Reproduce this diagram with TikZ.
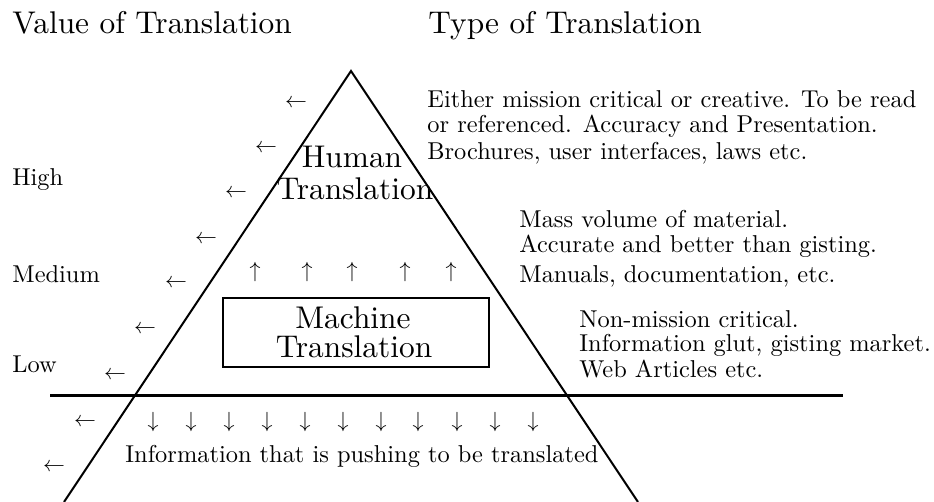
\documentclass[tikz,border=0pt]{standalone}
\font\smallrm="[lmroman10-regular]:+tlig;" at 12.2pt
\font\bigrm="[lmroman10-regular]:+tlig;" at 15.7pt
\tikzset{
  small/.style={font=\smallrm, inner sep=0pt},
  big/.style={font=\bigrm, inner sep=0pt},
  lbl/.style={small, anchor=base west},
  biglbl/.style={big, anchor=base west},
  bigc/.style={big, anchor=base},
  arr/.style={font=\fontsize{11}{11}\selectfont, inner sep=0pt},
  edgeline/.style={line width=1pt, line join=miter},
  baseline/.style={line width=1.5pt},
  mtbox/.style={line width=1.3pt},
}
\begin{document}
\begin{tikzpicture}[x=0.5pt,y=-0.5pt]
\useasboundingbox (0,0) rectangle (934,502);
\clip (0,0) rectangle (934,502);
% titles
\node[biglbl] (vt) at (12,34) {Value of Translation};
\node[biglbl] (tt) at (428,34) {Type of Translation};
% triangle
\coordinate (apex) at (351,71);
\coordinate (bl) at (64,502);
\coordinate (br) at (638,502);
\draw[edgeline] (bl) -- (apex) -- (br);
% horizontal line
\coordinate (hl) at (50,396);
\coordinate (hr) at (843,396);
\draw[baseline] (hl) -- (hr);
% box
\coordinate (bx1) at (223,298);
\coordinate (bx2) at (489,367);
\draw[mtbox] (bx1) rectangle (bx2);
\node[bigc] (mt1) at (353,329) {Machine};
\node[bigc] (mt2) at (354,358) {Translation};
% human
\node[bigc] (ht1) at (352,168) {Human};
\node[bigc] (ht2) at (355,200) {Translation};
% left labels
\node[lbl] (hi) at (12,186) {High};
\node[lbl] (me) at (12,283) {Medium};
\node[lbl] (lo) at (12,373) {Low};
% right text
\node[lbl] (a1) at (427,108) {Either mission critical or creative. To be read};
\node[lbl] (a2) at (427,133) {or referenced. Accuracy and Presentation.};
\node[lbl] (a3) at (427,160) {Brochures, user interfaces, laws etc.};
\node[lbl] (b1) at (519,228) {Mass volume of material.};
\node[lbl] (b2) at (519,253) {Accurate and better than gisting.};
\node[lbl] (b3) at (519,283) {Manuals, documentation, etc.};
\node[lbl] (c1) at (579,328) {Non-mission critical.};
\node[lbl] (c2) at (579,352) {Information glut, gisting market.};
\node[lbl] (c3) at (579,378) {Web Articles etc.};
\node[lbl] (info) at (125,463) {Information that is pushing to be translated};
% left arrows
\foreach \x/\y [count=\i] in {296/103,266/148,236/193,206/239,176/283,145/329,115/375,85/422,54/467}
  \node[arr] (la\i) at (\x,\y) {$\leftarrow$};
% up arrows
\foreach \x [count=\i] in {255,307,352,405,451}
  \node[arr] (ua\i) at (\x,272) {$\uparrow$};
% down arrows
\foreach \x [count=\i] in {153,191,229,267,305,343,381,418,457,495,533}
  \node[arr] (da\i) at (\x,422) {$\downarrow$};
\end{tikzpicture}
\end{document}
